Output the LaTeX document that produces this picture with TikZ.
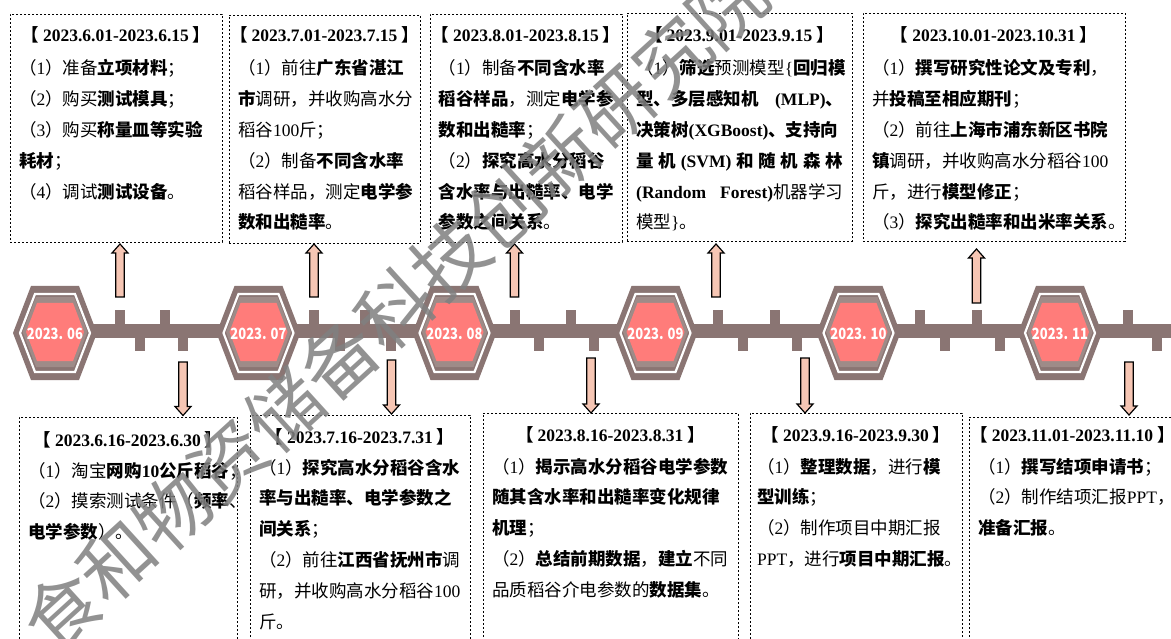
\documentclass[tikz,border=0pt]{standalone}
\usepackage{fontspec}
\setmainfont{Noto Sans CJK SC}
\newfontfamily\tm{Liberation Serif}
\XeTeXlinebreaklocale "zh"
\XeTeXlinebreakskip = 0pt plus 1pt
\newcommand\lat[1]{{\tm #1}}
\newcommand\hd[1]{\textbf{【 {\tm #1} 】}}
\newcommand\jl[2]{\makebox[#1pt][s]{#2}}
\definecolor{darkb}{RGB}{138,117,115}
\definecolor{lightb}{RGB}{158,139,136}
\definecolor{salm}{RGB}{255,124,122}
\definecolor{peach}{RGB}{246,198,180}
\definecolor{wmgray}{RGB}{128,128,128}
\tikzset{
  boxst/.style={draw=black, line width=0.75pt, dash pattern=on 2.4pt off 1.6pt, inner sep=0pt, outer sep=0pt, anchor=north west},
  hdst/.style={inner sep=0pt, anchor=base, font=\fontsize{17.5}{30.8}\selectfont},
  bodyst/.style={inner sep=0pt, anchor=base west, align=flush left, font=\fontsize{17.5}{30.8}\selectfont},
  hexlbl/.style={text=white, font=\fontsize{15.5}{16}\selectfont\bfseries, inner sep=0pt},
  arrst/.style={draw=black, line width=1.2pt, fill=peach, line join=miter},
  tickst/.style={fill=darkb},
  wmst/.style={text=wmgray, text opacity=0.85, font=\fontsize{75}{75}\selectfont, rotate=42.3, inner sep=0pt}
}
\newcommand\hexa[3]{%
  \fill[darkb] (#2-42,333) -- (#2-24,286) -- (#2+24,286) -- (#2+42,333) -- (#2+24,380) -- (#2-24,380) -- cycle;
  \draw[white, line width=2.2pt] (#2-35,333) -- (#2-20,294) -- (#2+20,294) -- (#2+35,333) -- (#2+20,372) -- (#2-20,372) -- cycle;
  \fill[lightb] (#2-32.5,332) -- (#2-19,297) -- (#2+19,297) -- (#2+32.5,332) -- (#2+19,367) -- (#2-19,367) -- cycle;
  \fill[salm] (#2-29,332) -- (#2-18,303) -- (#2+18,303) -- (#2+29,332) -- (#2+18,361) -- (#2-18,361) -- cycle;
  \node[hexlbl] (#1) at (#2,333.5) {\scalebox{0.84}[1]{#3}};}
\newcommand\uptk[1]{\fill[tickst] (#1-5,310.5) rectangle (#1+5,325);}
\newcommand\lowtk[1]{\fill[tickst] (#1-5,337.5) rectangle (#1+5,351);}
\newcommand\uparr[3]{\draw[arrst] (#1-4.3,#3) -- (#1-4.3,#2+9) -- (#1-8,#2+9) -- (#1,#2) -- (#1+8,#2+9) -- (#1+4.3,#2+9) -- (#1+4.3,#3) -- cycle;}
\newcommand\dnarr[3]{\draw[arrst] (#1-4.3,#2) -- (#1-4.3,#3-9) -- (#1-8,#3-9) -- (#1,#3) -- (#1+8,#3-9) -- (#1+4.3,#3-9) -- (#1+4.3,#2) -- cycle;}
\begin{document}
\begin{tikzpicture}[x=1pt,y=-1pt]
\useasboundingbox (0,0) rectangle (1171,639);
\clip (0,0) rectangle (1171,639);
\fill[white] (0,0) rectangle (1171,639);

% ---------- top boxes ----------
\node[boxst, minimum width=212, minimum height=228] (bA) at (10,14) {};
\node[hdst] (hA) at (116,41.5) {\hd{2023.6.01-2023.6.15}};
\node[bodyst, text width=244pt] (tA) at (19,75) {%
（\lat{1}）准备\textbf{立项材料}；\\
（\lat{2}）购买\textbf{测试模具}；\\
\jl{194}{（\lat{3}）购买\textbf{称量皿等实验}}\\
\textbf{耗材}；\\
（\lat{4}）调试\textbf{测试设备}。};

\node[boxst, minimum width=191, minimum height=228] (bB) at (229,15) {};
\node[hdst] (hB) at (324.5,41.5) {\hd{2023.7.01-2023.7.15}};
\node[bodyst, text width=225pt] (tB) at (238,75) {%
\jl{174}{（\lat{1}）前往\textbf{广东省湛江}}\\
\jl{174}{\textbf{市}调研，并收购高水分}\\
稻谷\lat{100}斤；\\
\jl{174}{（\lat{2}）制备\textbf{不同含水率}}\\
\jl{174}{稻谷样品，测定\textbf{电学参}}\\
\textbf{数和出糙率}。};

\node[boxst, minimum width=192, minimum height=228] (bC) at (430,14) {};
\node[hdst] (hC) at (526,41.5) {\hd{2023.8.01-2023.8.15}};
\node[bodyst, text width=226pt] (tC) at (438.5,75) {%
\jl{175}{（\lat{1}）制备\textbf{不同含水率}}\\
\jl{175}{\textbf{稻谷样品}，测定\textbf{电学参}}\\
\textbf{数和出糙率}；\\
\jl{175}{（\lat{2}）\textbf{探究高水分稻谷}}\\
\jl{175}{\textbf{含水率与出糙率、电学}}\\
\textbf{参数之间关系}。};

\node[boxst, minimum width=225, minimum height=228] (bD) at (627,13) {};
\node[hdst] (hD) at (739.5,41.5) {\hd{2023.9.01-2023.9.15}};
\node[bodyst, text width=257pt] (tD) at (636,75) {%
\jl{207}{（\lat{1}）\textbf{筛选}预测模型\lat{\{}\textbf{回归模}}\\
\jl{207}{\textbf{型、多层感知机 \lat{(MLP)}、}}\\
\jl{207}{\textbf{决策树\lat{(XGBoost)}、支持向}}\\
\jl{207}{\textbf{量 机 \lat{(SVM)} 和 随 机 森 林}}\\
\jl{207}{\textbf{\lat{(Random Forest)}}机器学习}\\
模型\lat{\}}。};

\node[boxst, minimum width=262, minimum height=228] (bE) at (863,13) {};
\node[hdst] (hE) at (994,41.5) {\hd{2023.10.01-2023.10.31}};
\node[bodyst, text width=294pt] (tE) at (872,75) {%
\jl{244}{（\lat{1}）\textbf{撰写研究性论文及专利}，}\\
并\textbf{投稿至相应期刊}；\\
\jl{244}{（\lat{2}）前往\textbf{上海市浦东新区书院}}\\
\jl{244}{\textbf{镇}调研，并收购高水分稻谷\lat{100}}\\
斤，进行\textbf{模型修正}；\\
（\lat{3}）\textbf{探究出糙率和出米率关系}。};

% ---------- bottom boxes ----------
\node[boxst, minimum width=218, minimum height=240] (ba) at (19,417) {};
\node[hdst] (ha) at (128,446) {\hd{2023.6.16-2023.6.30}};
\node[bodyst, text width=250pt] (ta) at (28,477) {%
（\lat{1}）淘宝\textbf{网购\lat{10}公斤稻谷}；\\
\jl{200}{（\lat{2}）摸索测试条件（\textbf{频率}、}\\
\textbf{电学参数}）。};

\node[boxst, minimum width=220, minimum height=240] (bb) at (250,415) {};
\node[hdst] (hb) at (360,443) {\hd{2023.7.16-2023.7.31}};
\node[bodyst, text width=252pt] (tb) at (259,474) {%
\jl{202}{（\lat{1}）\textbf{探究高水分稻谷含水}}\\
\jl{202}{\textbf{率与出糙率、电学参数之}}\\
\textbf{间关系}；\\
\jl{202}{（\lat{2}）前往\textbf{江西省抚州市}调}\\
\jl{202}{研，并收购高水分稻谷\lat{100}}\\
斤。};

\node[boxst, minimum width=255, minimum height=240] (bc) at (483,413) {};
\node[hdst] (hc) at (610.5,441) {\hd{2023.8.16-2023.8.31}};
\node[bodyst, text width=287pt] (tc) at (492,473) {%
\jl{237}{（\lat{1}）\textbf{揭示高水分稻谷电学参数}}\\
\jl{237}{\textbf{随其含水率和出糙率变化规律}}\\
\textbf{机理}；\\
\jl{237}{（\lat{2}）\textbf{总结前期数据}，\textbf{建立}不同}\\
品质稻谷介电参数的\textbf{数据集}。};

\node[boxst, minimum width=212, minimum height=240] (bd) at (750,413) {};
\node[hdst] (hdd) at (856,441) {\hd{2023.9.16-2023.9.30}};
\node[bodyst, text width=248pt] (td) at (757,473) {%
\jl{198}{（\lat{1}）\textbf{整理数据}，进行\textbf{模}}\\
\textbf{型训练}；\\
\jl{198}{（\lat{2}）制作项目中期汇报}\\
\lat{PPT}，进行\textbf{项目中期汇报}。};

\node[boxst, minimum width=207, minimum height=240] (be) at (969,417) {};
\node[hdst] (he) at (1072.5,441) {\hd{2023.11.01-2023.11.10}};
\node[bodyst, text width=248pt] (te) at (978,473) {%
（\lat{1}）\textbf{撰写结项申请书}；\\
\jl{196}{（\lat{2}）制作结项汇报\lat{PPT}，}\\
\textbf{准备汇报}。};

% ---------- timeline ----------
\fill[darkb] (55,324) rectangle (1171,338.5);
\foreach \u in {120,165,314,365,514.5,571,717.5,774.5,920,976.5,1128} {\uptk{\u}}
\foreach \l in {140,183,340,391,539,594,742.5,797,944.5,999.5,1157} {\lowtk{\l}}
\hexa{h1}{55}{2023. 06}
\hexa{h2}{258.5}{2023. 07}
\hexa{h3}{454.5}{2023. 08}
\hexa{h4}{655.5}{2023. 09}
\hexa{h5}{858.5}{2023. 10}
\hexa{h6}{1060}{2023. 11}

% ---------- arrows ----------
\uparr{120}{244}{297}
\uparr{314}{244}{297}
\uparr{514.5}{244}{297}
\uparr{716}{244}{297}
\uparr{976.5}{249}{303}
\dnarr{183}{362}{415.5}
\dnarr{391.5}{360}{414}
\dnarr{591}{358}{413}
\dnarr{805}{358}{413}
\dnarr{1129}{362}{415}

% ---------- watermark ----------
\node[wmst] (wm) at (394.5,308.7) {食和物资储备科技创新研究院};
\end{tikzpicture}
\end{document}
